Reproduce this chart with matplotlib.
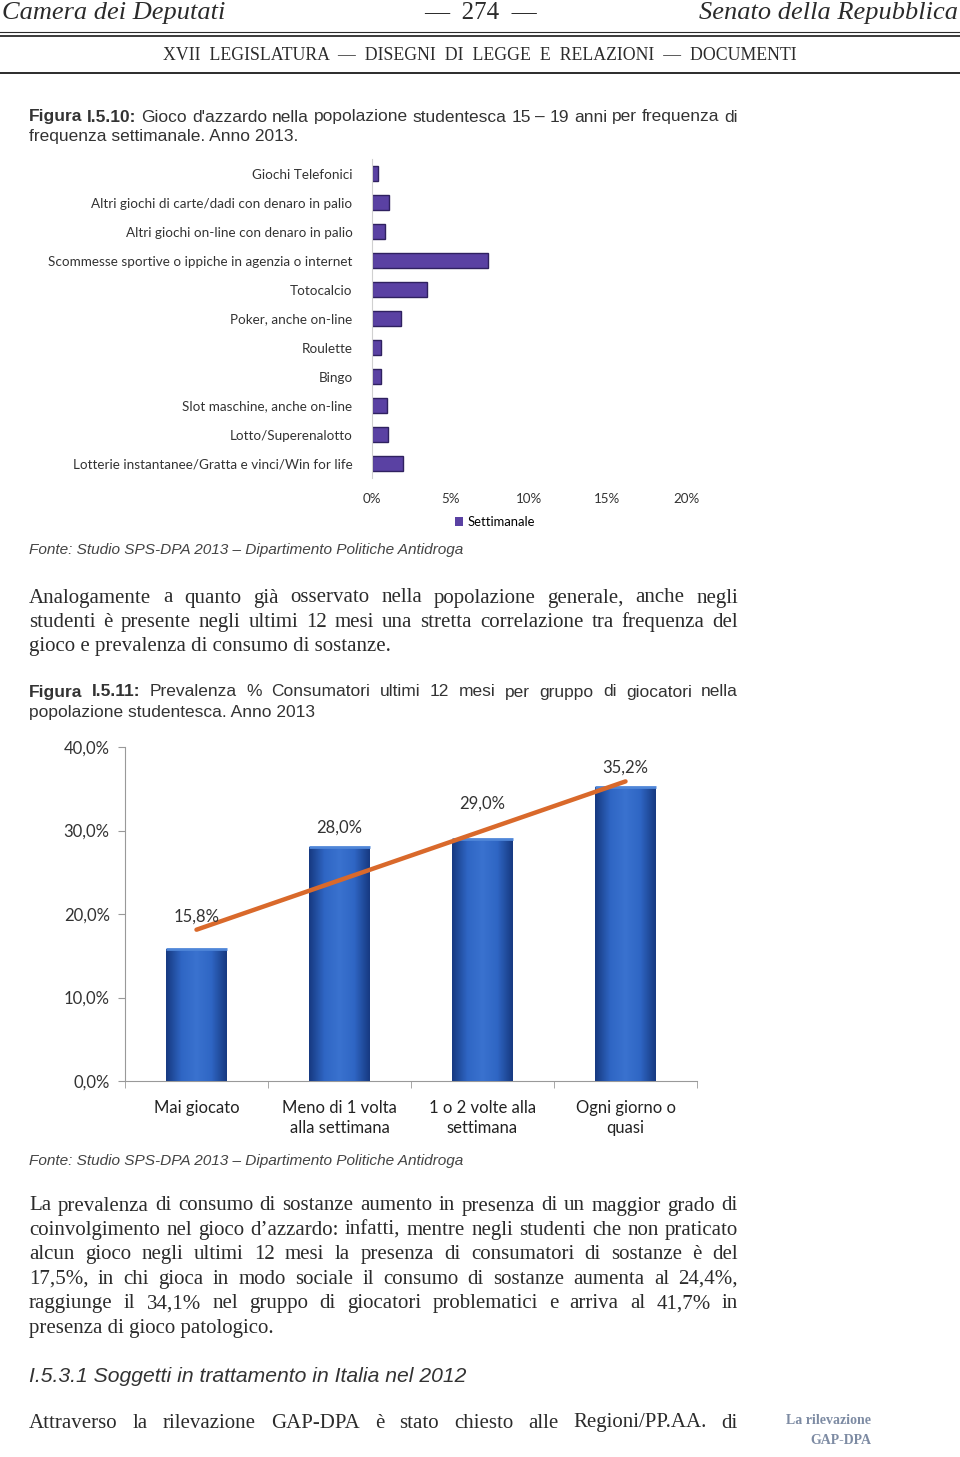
import numpy as np
import matplotlib.pyplot as plt
from matplotlib.colors import LinearSegmentedColormap

W, H = 960, 1457

## figure I.5.10 : weekly gambling by game
games = ["Giochi Telefonici",
         "Altri giochi di carte/dadi con denaro in palio",
         "Altri giochi on-line con denaro in palio",
         "Scommesse sportive o ippiche in agenzia o internet",
         "Totocalcio",
         "Poker, anche on-line",
         "Roulette",
         "Bingo",
         "Slot maschine, anche on-line",
         "Lotto/Superenalotto",
         "Lotterie instantanee/Gratta e vinci/Win for life"]
weekly_pct = [0.4, 1.1, 0.85, 7.4, 3.5, 1.85, 0.6, 0.55, 0.95, 1.0, 1.95]
x_ticks1 = [0, 5, 10, 15, 20]
x_ticklabels1 = ["0%", "5%", "10%", "15%", "20%"]

## figure I.5.11 : users by gambler group
groups = ["Mai giocato", "Meno di 1 volta\nalla settimana",
          "1 o 2 volte alla\nsettimana", "Ogni giorno o\nquasi"]
users_pct = [15.8, 28.0, 29.0, 35.2]
users_labels = ["15,8%", "28,0%", "29,0%", "35,2%"]
y_ticks2 = [0, 10, 20, 30, 40]
y_ticklabels2 = ["0,0%", "10,0%", "20,0%", "30,0%", "40,0%"]

## page text
caption1 = ["Figura I.5.10: Gioco d'azzardo nella popolazione studentesca 15 \u2013 19 anni per frequenza di",
            "frequenza settimanale. Anno 2013."]
caption2 = ["Figura I.5.11: Prevalenza % Consumatori ultimi 12 mesi per gruppo di giocatori nella",
            "popolazione studentesca. Anno 2013"]
fonte = "Fonte: Studio SPS-DPA 2013 \u2013 Dipartimento Politiche Antidroga"
para1 = ["Analogamente a quanto gi\u00e0 osservato nella popolazione generale, anche negli",
         "studenti \u00e8 presente negli ultimi 12 mesi una stretta correlazione tra frequenza del",
         "gioco e prevalenza di consumo di sostanze."]
para2 = ["La prevalenza di consumo di sostanze aumento in presenza di un maggior grado di",
         "coinvolgimento nel gioco d\u2019azzardo: infatti, mentre negli studenti che non praticato",
         "alcun gioco negli ultimi 12 mesi la presenza di consumatori di sostanze \u00e8 del",
         "17,5%, in chi gioca in modo sociale il consumo di sostanze aumenta al 24,4%,",
         "raggiunge il 34,1% nel gruppo di giocatori problematici e arriva al 41,7% in",
         "presenza di gioco patologico."]
heading = "I.5.3.1 Soggetti in trattamento in Italia nel 2012"
para3 = ["Attraverso la rilevazione GAP-DPA \u00e8 stato chiesto alle Regioni/PP.AA. di"]

SERIF = ['Liberation Serif', 'DejaVu Serif']
NARROW = ['Liberation Sans Narrow', 'Liberation Sans', 'DejaVu Sans']
CHART = ['Lato', 'DejaVu Sans']
INK = '#2b2b2b'

fig = plt.figure(figsize=(9.6, 14.57), dpi=100)
page = fig.add_axes([0, 0, 1, 1])
page.set_xlim(0, W)
page.set_ylim(H, 0)
page.axis('off')
rend = fig.canvas.get_renderer()


def rect(l, t, r, b):
    return [l / W, 1 - b / H, (r - l) / W, (b - t) / H]


def justify(line, y, x0=29, x1=738, bold_words=0, **kw):
    words = line.split()
    ts = []
    for i, w in enumerate(words):
        ts.append(page.text(x0, y, w, va='center', ha='left',
                            fontweight='bold' if i < bold_words else 'normal', **kw))
    widths = [t.get_window_extent(rend).width for t in ts]
    gap = (x1 - x0 - sum(widths)) / (len(words) - 1)
    x = x0
    for t, w in zip(ts, widths):
        t.set_x(x)
        x += w + gap


def plain(line, y, x0=29, bold_words=0, **kw):
    words = line.split(' ')
    head = ' '.join(words[:bold_words])
    x = x0
    if head:
        t = page.text(x, y, head + ' ', va='center', ha='left', fontweight='bold', **kw)
        x += t.get_window_extent(rend).width
    page.text(x, y, ' '.join(words[bold_words:]), va='center', ha='left', **kw)


## header
page.text(2, 13, "Camera dei Deputati", family=SERIF, style='italic', fontsize=19,
          va='center', color=INK)
page.text(480, 13, "\u2014  274  \u2014", family=SERIF, fontsize=18, va='center',
          ha='center', color=INK)
page.text(958, 13, "Senato della Repubblica", family=SERIF, style='italic', fontsize=19,
          va='center', ha='right', color=INK)
page.plot([0, W], [32, 32], color=INK, lw=0.8)
page.plot([0, W], [35.5, 35.5], color=INK, lw=1.3)
page.text(480, 56, "XVII  LEGISLATURA  \u2014  DISEGNI  DI  LEGGE  E  RELAZIONI  \u2014  DOCUMENTI",
          family=SERIF, fontsize=12.8, va='center', ha='center', color=INK)
page.plot([0, W], [73, 73], color=INK, lw=1.4)

capkw = dict(family=NARROW, fontsize=12.5, color='#333333')
justify(caption1[0], 117, bold_words=2, **capkw)
plain(caption1[1], 137, **capkw)

fontekw = dict(family=NARROW, fontsize=11.1, style='italic', color='#444444')
plain(fonte, 550, **fontekw)

bodykw = dict(family=SERIF, fontsize=15, color=INK)
for i, line in enumerate(para1):
    y = 598 + i * 24.5
    if i < len(para1) - 1:
        justify(line, y, **bodykw)
    else:
        plain(line, y, **bodykw)

justify(caption2[0], 692, bold_words=2, **capkw)
plain(caption2[1], 713, **capkw)

plain(fonte, 1161, **fontekw)

for i, line in enumerate(para2):
    y = 1206 + i * 24.4
    if i < len(para2) - 1:
        justify(line, y, **bodykw)
    else:
        plain(line, y, **bodykw)

plain(heading, 1377, family=NARROW, fontsize=15.2, style='italic', color='#333333')
justify(para3[0], 1423, **bodykw)

page.text(828, 1420, "La rilevazione", family=SERIF, fontsize=10, fontweight='bold',
          color='#7d8ba3', ha='center', va='center')
page.text(841, 1440, "GAP-DPA", family=SERIF, fontsize=10, fontweight='bold',
          color='#7d8ba3', ha='center', va='center')

## chart I.5.10
ax1 = fig.add_axes(rect(372, 159, 686, 478))
ypos = np.arange(len(games))
ax1.barh(ypos, weekly_pct, height=0.5, color='#5a41a3', edgecolor='#2f2160', lw=1.0)
ax1.set_ylim(len(games) - 0.5, -0.5)
ax1.set_xlim(0, 20)
ax1.set_yticks(ypos)
ax1.set_yticklabels(games, family=CHART, fontsize=9.7, color='#333333')
ax1.set_xticks(x_ticks1)
ax1.set_xticklabels(x_ticklabels1, family=CHART, fontsize=9.6, color='#333333')
ax1.tick_params(length=0)
ax1.tick_params(axis='y', pad=14)
ax1.tick_params(axis='x', pad=11)
for s in ['top', 'right', 'bottom']:
    ax1.spines[s].set_visible(False)
ax1.spines['left'].set_color('#d0d0d0')
ax1.bar([0], [0], color='#5a41a3', label='Settimanale')
ax1.legend(loc='center', bbox_to_anchor=(495 / W, 1 - 522 / H), bbox_transform=fig.transFigure,
           frameon=False, prop={'family': CHART, 'size': 9.4}, handlelength=0.6, handleheight=0.6,
           handletextpad=0.4)

## chart I.5.11
ax2 = fig.add_axes(rect(125, 747, 697, 1081))
xpos = np.arange(len(groups))
bw = 0.42
bars = ax2.bar(xpos, users_pct, width=bw, color='#2457b0', zorder=2)
grad = LinearSegmentedColormap.from_list('g', ['#173a82', '#2f66c4', '#3a72cf', '#2f66c4', '#173a82'])
for b in bars:
    img = ax2.imshow(np.linspace(0, 1, 64)[None, :], cmap=grad, aspect='auto', zorder=3,
                     extent=(b.get_x(), b.get_x() + b.get_width(), 0, b.get_height()))
    img.set_clip_path(b)
    ax2.plot([b.get_x(), b.get_x() + b.get_width()], [b.get_height()] * 2, color='#4f86d8',
             lw=2, zorder=4, solid_capstyle='butt')

# linear trend through the group values
k, c = np.polyfit(xpos, users_pct, 1)
ax2.plot(xpos[[0, -1]], k * xpos[[0, -1]] + c, color='#d9692b', lw=3.2, zorder=5,
         solid_capstyle='round')

label_off = [3.9, 2.3, 4.2, 2.3]
for x, v, lab, o in zip(xpos, users_pct, users_labels, label_off):
    ax2.text(x, v + o, lab, ha='center', va='center', family=CHART, fontsize=12,
             color='#333333', zorder=6)

ax2.set_xlim(-0.5, len(groups) - 0.5)
ax2.set_ylim(0, 40)
ax2.set_yticks(y_ticks2)
ax2.set_yticklabels(y_ticklabels2, family=CHART, fontsize=12, color='#333333')
ax2.set_xticks(xpos)
ax2.set_xticklabels(groups, family=CHART, fontsize=12, color='#222222', linespacing=1.3)
ax2.set_xticks(np.arange(len(groups) + 1) - 0.5, minor=True)
ax2.tick_params(axis='x', which='major', length=0, pad=14)
ax2.tick_params(axis='x', which='minor', length=5, color='#999999')
ax2.tick_params(axis='y', length=5, color='#999999', pad=6)
for s in ['top', 'right']:
    ax2.spines[s].set_visible(False)
for s in ['left', 'bottom']:
    ax2.spines[s].set_color('#999999')

fig.savefig('out.png', dpi=100)
